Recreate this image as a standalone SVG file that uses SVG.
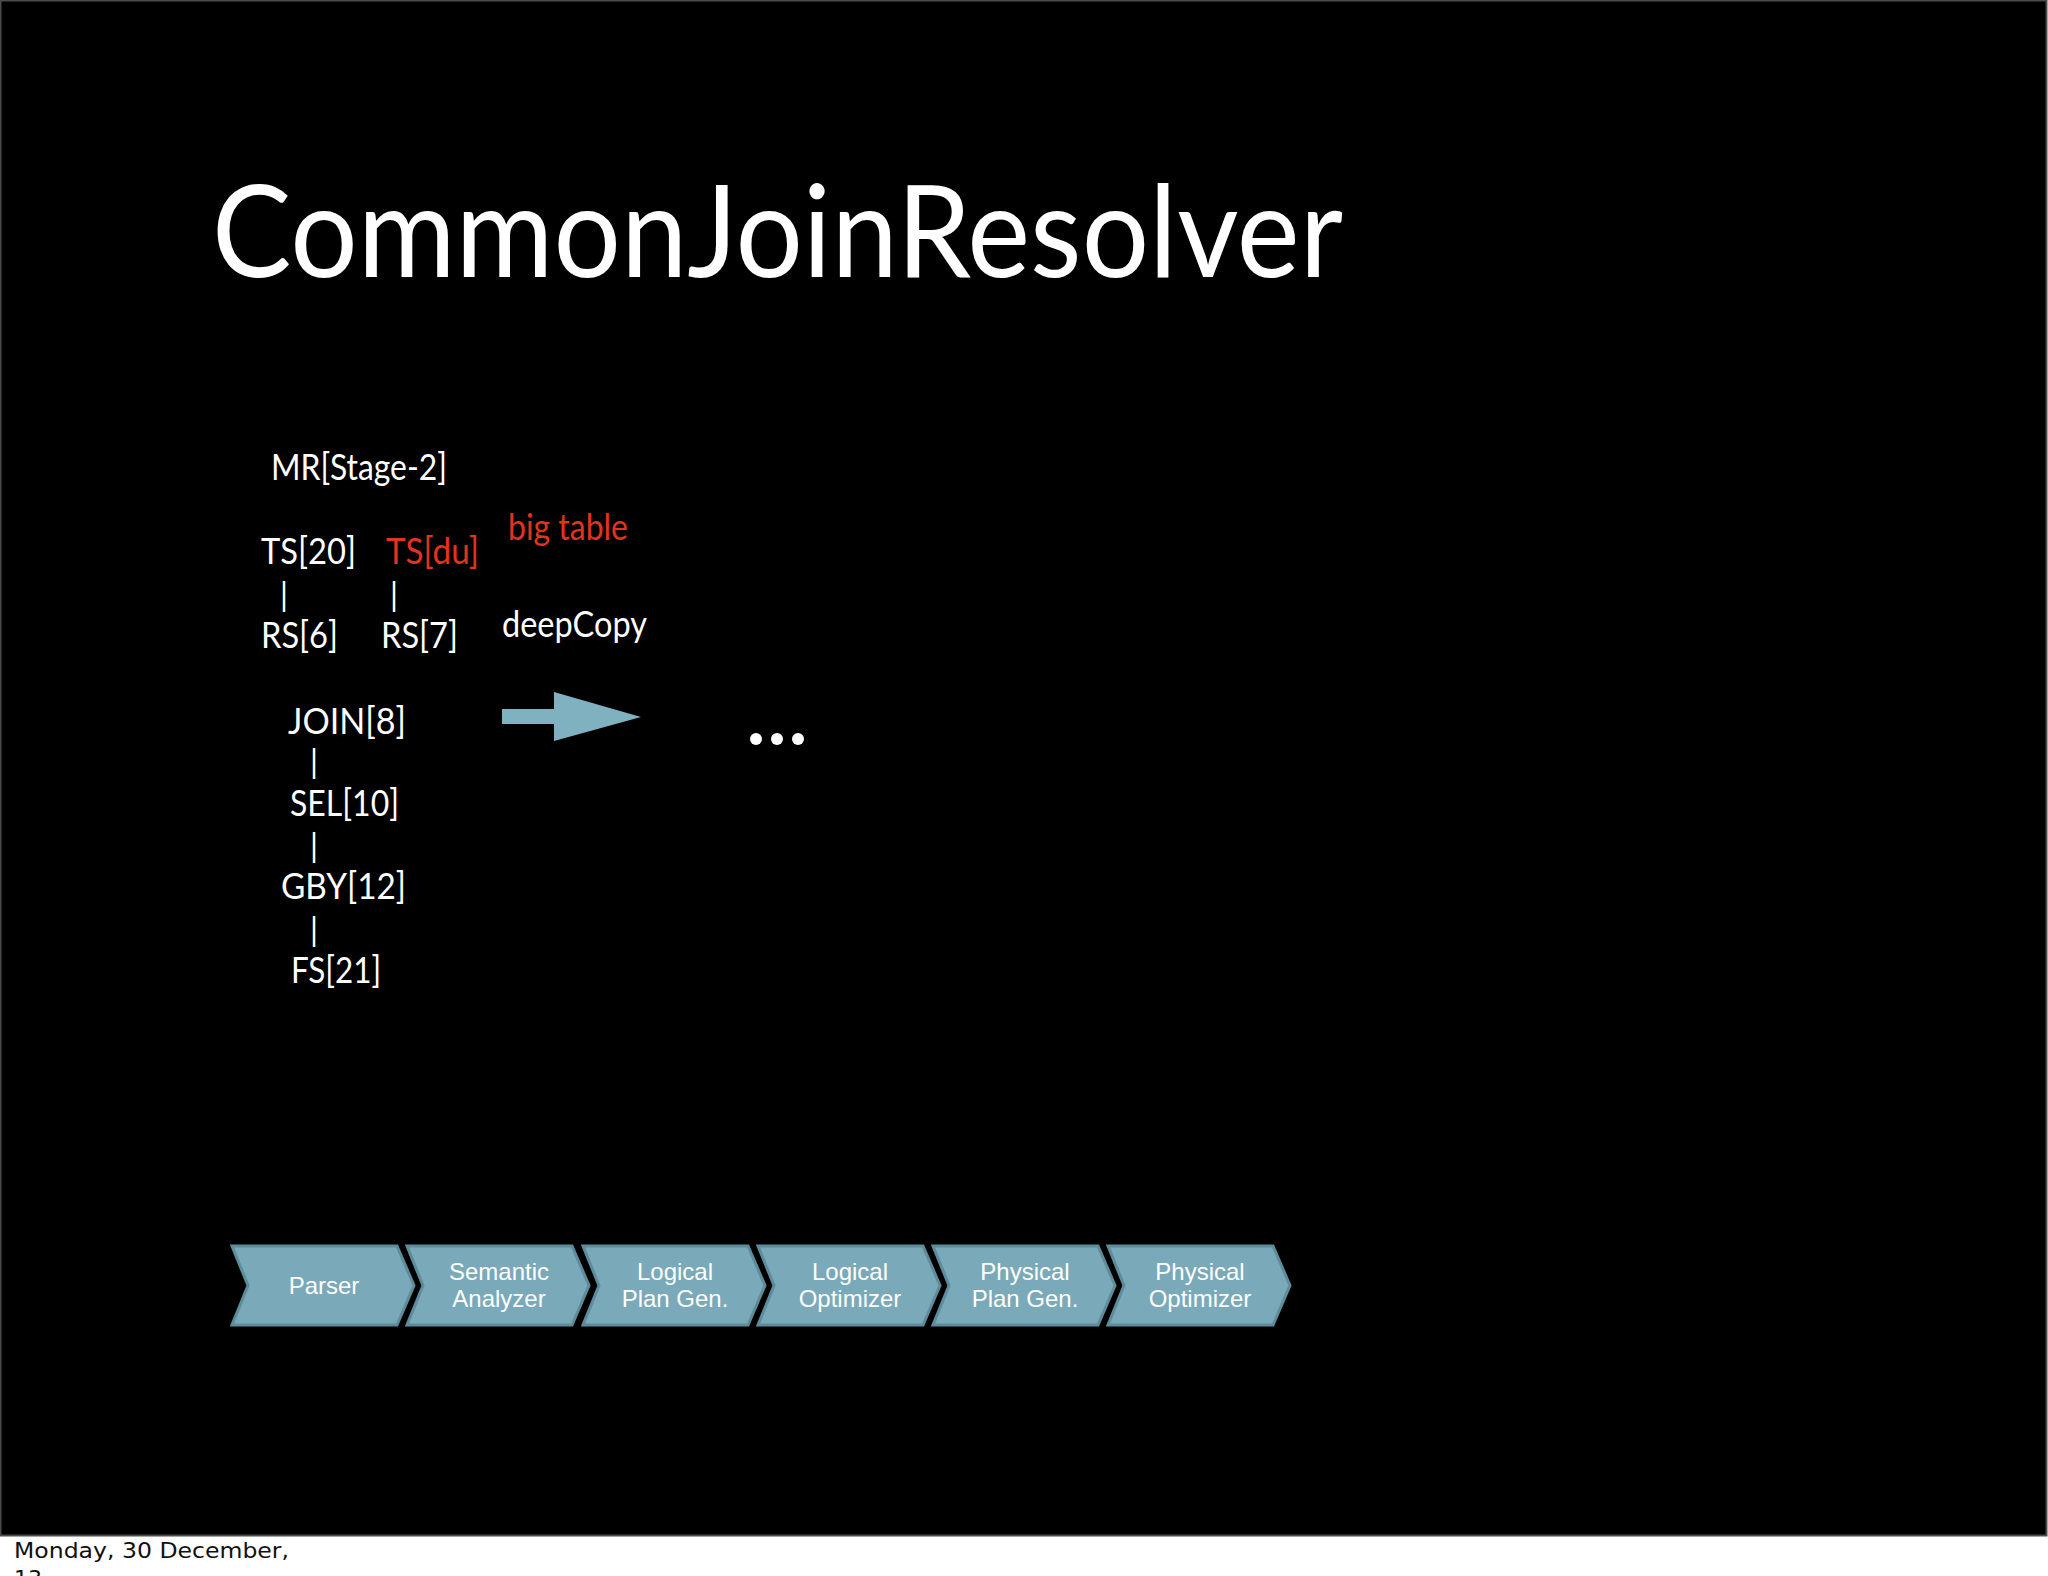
<svg xmlns="http://www.w3.org/2000/svg" width="2048" height="1576" viewBox="0 0 2048 1576">
<style>
.t{font-family:Lato,"Open Sans","Liberation Sans",sans-serif;font-size:36px;fill:#fff}
.r{fill:#e5321d}
.p{font-family:Lato,"Liberation Sans",sans-serif;font-size:32px;fill:#fff;text-anchor:middle}
.chev{fill:#7aa9b9;stroke:#5d8c9b;stroke-width:3;stroke-linejoin:miter}
.ct{font-family:"Liberation Sans",Arial,sans-serif;font-size:24px;fill:#fff;text-anchor:middle}
</style>
<defs>
<path id="chevShape" d="M0,1246 L165,1246 L182,1285.5 L165,1325 L0,1325 L16,1285.5 Z"/>
</defs>
<rect x="0" y="0" width="2048" height="1576" fill="#fff"/>
<rect x="0.5" y="0.5" width="2046" height="1535" fill="#000" stroke="#4a4a4a" stroke-width="2"/>
<text x="212" y="277" font-family="Lato,'Open Sans','Liberation Sans',sans-serif" font-size="128" fill="#fff" textLength="1131" lengthAdjust="spacingAndGlyphs">CommonJoinResolver</text>

<g id="mr"><text class="t" x="271" y="480" textLength="176" lengthAdjust="spacingAndGlyphs">MR[Stage-2]</text></g>
<g id="ts20"><text class="t" x="261" y="564" textLength="95" lengthAdjust="spacingAndGlyphs">TS[20]</text></g>
<g id="tsdu"><text class="t r" x="386" y="564" textLength="93" lengthAdjust="spacingAndGlyphs">TS[du]</text></g>
<g id="bigtable"><text class="t r" x="508" y="540" textLength="120" lengthAdjust="spacingAndGlyphs">big table</text></g>
<g id="rs6"><text class="t" x="261" y="648" textLength="77" lengthAdjust="spacingAndGlyphs">RS[6]</text></g>
<g id="rs7"><text class="t" x="381" y="648" textLength="77" lengthAdjust="spacingAndGlyphs">RS[7]</text></g>
<g id="deepcopy"><text class="t" x="502" y="637" textLength="145" lengthAdjust="spacingAndGlyphs">deepCopy</text></g>
<g id="join8"><text class="t" x="288" y="734" textLength="118" lengthAdjust="spacingAndGlyphs">JOIN[8]</text></g>
<g id="sel10"><text class="t" x="290" y="816" textLength="109" lengthAdjust="spacingAndGlyphs">SEL[10]</text></g>
<g id="gby12"><text class="t" x="281" y="899" textLength="125" lengthAdjust="spacingAndGlyphs">GBY[12]</text></g>
<g id="fs21"><text class="t" x="291" y="983" textLength="90" lengthAdjust="spacingAndGlyphs">FS[21]</text></g>

<g id="connectors">
<text class="p" x="284" y="606">|</text>
<text class="p" x="394" y="606">|</text>
<text class="p" x="314" y="773">|</text>
<text class="p" x="314" y="857">|</text>
<text class="p" x="314" y="941">|</text>
<polygon points="502,709 554,709 554,692 641,717 554,741 554,724 502,724" fill="#7fb1c0"/>
</g>

<g id="ellipsis" fill="#fff">
<circle cx="756" cy="739" r="6"/>
<circle cx="777" cy="739" r="6"/>
<circle cx="798" cy="739" r="6"/>
</g>

<g id="parser" transform="translate(232,0)"><use href="#chevShape" class="chev"/><text class="ct" x="92" y="1294">Parser</text></g>
<g id="semantic" transform="translate(407,0)"><use href="#chevShape" class="chev"/><text class="ct" x="92" y="1280">Semantic</text><text class="ct" x="92" y="1307">Analyzer</text></g>
<g id="logplangen" transform="translate(583,0)"><use href="#chevShape" class="chev"/><text class="ct" x="92" y="1280">Logical</text><text class="ct" x="92" y="1307">Plan Gen.</text></g>
<g id="logopt" transform="translate(758,0)"><use href="#chevShape" class="chev"/><text class="ct" x="92" y="1280">Logical</text><text class="ct" x="92" y="1307">Optimizer</text></g>
<g id="physplangen" transform="translate(933,0)"><use href="#chevShape" class="chev"/><text class="ct" x="92" y="1280">Physical</text><text class="ct" x="92" y="1307">Plan Gen.</text></g>
<g id="physopt" transform="translate(1108,0)"><use href="#chevShape" class="chev"/><text class="ct" x="92" y="1280">Physical</text><text class="ct" x="92" y="1307">Optimizer</text></g>

<text x="14" y="1558" font-family="'DejaVu Sans','Liberation Sans',sans-serif" font-size="22" fill="#111" textLength="275" lengthAdjust="spacingAndGlyphs">Monday, 30 December,</text>
<text x="14" y="1586" font-family="'DejaVu Sans','Liberation Sans',sans-serif" font-size="22" fill="#111">13</text>
</svg>
